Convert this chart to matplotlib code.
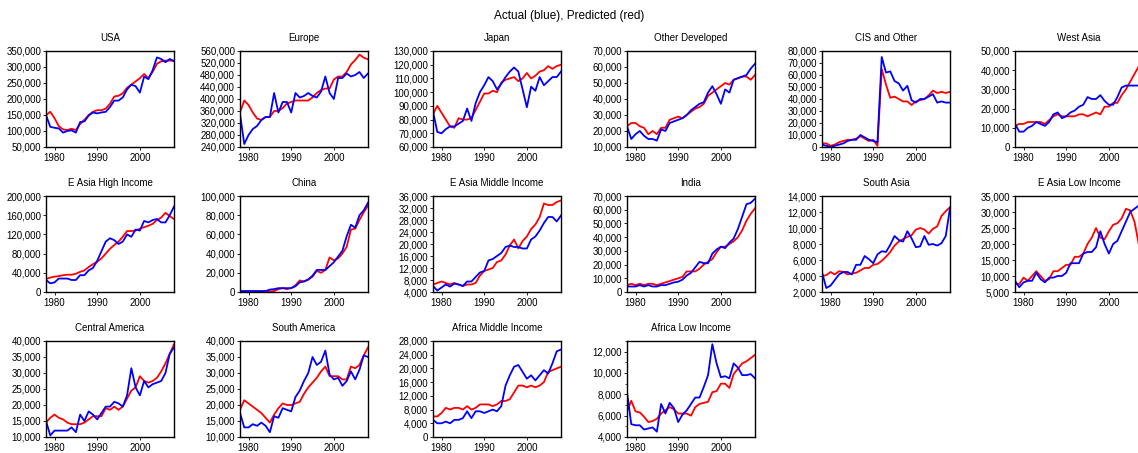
import matplotlib
matplotlib.use('Agg')
import matplotlib.pyplot as plt
from matplotlib.ticker import FuncFormatter, MultipleLocator
import numpy as np

plt.rcParams['font.family'] = ['Liberation Sans', 'DejaVu Sans']

years = np.arange(1978, 2009)

# (title, actual, predicted, ymin, ymax, ystep) -- values in thousands
usa_act = [150, 113, 110, 108, 95, 100, 102, 95, 128, 130, 148, 158, 155, 158, 160, 175, 195, 195, 205, 230, 245, 240, 220, 270, 262, 290, 330, 325, 315, 325, 318]
usa_pred = [150, 160, 140, 115, 105, 103, 107, 103, 122, 135, 150, 160, 165, 165, 170, 185, 208, 210, 218, 235, 245, 255, 265, 278, 265, 285, 310, 318, 320, 320, 320]

eur_act = [350, 250, 280, 300, 310, 330, 340, 340, 420, 355, 390, 390, 355, 420, 405, 410, 420, 410, 405, 425, 475, 420, 400, 470, 470, 485, 475, 480, 490, 470, 485]
eur_pred = [355, 395, 380, 355, 335, 330, 340, 340, 360, 360, 370, 385, 390, 395, 395, 395, 395, 405, 420, 430, 435, 435, 465, 475, 475, 490, 515, 530, 548, 538, 532]

jpn_act = [86, 71, 70, 73, 75, 75, 77, 79, 88, 79, 92, 100, 105, 111, 108, 102, 106, 111, 115, 118, 115, 102, 89, 104, 101, 111, 105, 108, 111, 111, 115]
jpn_pred = [84, 90, 85, 80, 75, 74, 81, 80, 80, 81, 87, 93, 99, 99, 101, 100, 107, 109, 110, 111, 108, 110, 114, 110, 112, 115, 116, 119, 117, 119, 120]

odv_act = [23, 15, 18, 20, 17, 15, 15, 14, 21, 20, 25, 26, 27, 28, 30, 33, 35, 37, 38, 44, 48, 43, 37, 46, 44, 52, 53, 54, 55, 59, 62]
odv_pred = [23, 25, 25, 23, 22, 18, 20, 18, 22, 22, 27, 28, 29, 28, 30, 32, 34, 35, 37, 42, 44, 46, 48, 50, 49, 52, 53, 54, 54, 52, 55]

cis_act = [2, 1, 0, 1, 2, 3, 5, 6, 6, 10, 8, 6, 5, 4, 75, 62, 63, 55, 53, 47, 51, 39, 37, 40, 40, 42, 44, 37, 38, 37, 37]
cis_pred = [3, 3, 1, 2, 4, 5, 6, 6, 7, 9, 7, 5, 6, 1, 65, 52, 41, 42, 40, 38, 38, 35, 38, 39, 40, 43, 47, 45, 46, 45, 46]

wa_act = [12, 8, 8, 10, 11, 13, 12, 11, 13, 17, 18, 15, 16, 18, 19, 21, 22, 26, 25, 25, 27, 24, 22, 22, 26, 31, 32, 32, 32, 32, 33]
wa_pred = [11, 12, 12, 13, 13, 13, 13, 12, 14, 16, 17, 16, 16, 16, 16, 17, 17, 16, 17, 18, 17, 21, 21, 23, 23, 27, 30, 34, 38, 42, 45]

eahi_act = [25, 18, 20, 28, 28, 28, 25, 25, 35, 35, 45, 50, 65, 85, 105, 112, 108, 100, 105, 120, 115, 130, 128, 148, 145, 150, 152, 145, 145, 160, 178]
eahi_pred = [27, 30, 32, 33, 35, 36, 36, 38, 42, 45, 52, 58, 63, 70, 80, 90, 98, 105, 115, 127, 127, 128, 132, 135, 138, 142, 150, 155, 165, 158, 152]

chn_act = [1, 1, 1, 1, 1, 1, 1, 2.5, 3, 4, 4, 4, 4, 6, 10, 11, 13, 17, 23, 23, 23, 27, 31, 37, 43, 58, 70, 67, 80, 85, 93]
chn_pred = [0.5, 0.5, 0.5, 0.5, 0.5, 0.5, 0.5, 0.5, 1, 3, 4, 3, 4, 7, 12, 11, 13, 16, 22, 20, 23, 36, 33, 35, 40, 47, 65, 66, 75, 83, 90]

eami_act = [6, 4.5, 5.5, 6.5, 5.8, 6.8, 6.5, 6, 7.5, 7.5, 9, 10.5, 11, 14.5, 15, 16, 17, 19, 19.5, 19, 19, 18.5, 18.5, 21.5, 22.5, 24.5, 27, 29, 29, 27.5, 29.5]
eami_pred = [6.5, 7, 7.5, 7, 6.5, 7, 6.5, 6, 6.5, 6.5, 7, 9.5, 11, 11.5, 12, 14, 14.5, 16.5, 19.5, 21.5, 18.5, 21, 22.5, 25, 26.5, 29, 33.5, 33, 33, 34, 34.5]

ind_act = [4, 4, 4, 5, 4, 5, 4, 4, 5, 5, 6, 7, 7.5, 9, 12, 14, 18, 22, 21, 21, 28, 31, 33, 32, 36, 39, 46, 55, 64, 65, 68]
ind_pred = [5, 6, 5, 6, 5, 6, 6, 5, 6, 7, 8, 9, 10, 11, 15, 15, 15, 17, 20, 22, 24, 29, 33, 33, 35, 37, 40, 45, 52, 57, 61]

sa_act = [4.5, 2.5, 2.8, 3.5, 4.2, 4.5, 4.5, 4.2, 5.4, 5.4, 6.5, 6.1, 5.6, 6.7, 7.1, 7.0, 7.9, 9.0, 8.5, 8.3, 9.6, 8.7, 7.6, 7.7, 9.0, 7.9, 8.0, 7.8, 8.1, 9.0, 12.5]
sa_pred = [4.0, 4.1, 4.5, 4.2, 4.6, 4.5, 4.2, 4.3, 4.4, 4.7, 5.0, 5.0, 5.4, 5.5, 5.9, 6.4, 7.0, 7.8, 8.3, 8.6, 8.9, 9.1, 9.8, 10.0, 9.8, 9.3, 9.9, 10.2, 11.5, 12.1, 12.6]

eali_act = [8.5, 6.5, 8, 8.5, 8.5, 11, 9, 8, 9.5, 9.5, 10, 10, 11, 14, 14, 14, 17, 17.5, 17.5, 19, 24, 20, 17, 20, 21, 24, 27, 30, 31, 32, 33]
eali_pred = [7.5, 7.5, 9.5, 8.5, 10, 11.5, 10, 8.5, 9, 11.5, 11.5, 12.5, 13.5, 13.5, 16, 16, 17, 20, 22, 25, 22, 21.5, 24, 26, 26.5, 28, 31, 30.5, 27, 20, 18]

cam_act = [15, 10.5, 12, 12, 12, 12, 13, 11.5, 17, 15, 18, 17, 15.5, 17.5, 19.5, 19.5, 21, 20.5, 19.5, 23, 31.5, 25.5, 23, 27.5, 25.5, 26.5, 27, 27.5, 30, 36, 38]
cam_pred = [14.5, 16, 17, 16, 15.5, 14.5, 14, 14, 14, 14.5, 15.5, 16.5, 16.5, 16.5, 19, 18.5, 19.5, 18.5, 19.5, 22, 24.5, 25.5, 29, 27.5, 27, 27.5, 28.5, 30.5, 33, 36, 39]

sam_act = [17.5, 13, 13, 14, 13.5, 14.5, 13.5, 11.5, 16.5, 16, 19, 18.5, 18, 22.5, 24.5, 27.5, 30, 35, 32.5, 33.5, 37, 29.5, 28, 28.5, 26, 27.5, 30.5, 28, 31, 35.5, 35]
sam_pred = [18.5, 21.5, 20.5, 19.5, 18.5, 17.5, 16, 14.5, 17, 19, 20.5, 20, 20, 20.5, 21, 23.5, 25.5, 27, 28.5, 30.5, 32, 29, 29, 29, 28, 28, 32, 31.5, 32.5, 35.5, 38]

ami_act = [5, 4, 4, 4.5, 4, 5, 5, 5.5, 7.5, 5.5, 7.5, 7.5, 7, 7.5, 8, 7.5, 9, 15, 18, 20.5, 21, 19, 17, 18, 16.5, 18, 19.5, 18.5, 21.5, 25, 25.5]
ami_pred = [6, 6, 7, 8.5, 8, 8.5, 8.5, 8, 9, 8, 8.5, 9.5, 9.5, 9.5, 9, 9.5, 10.5, 10.5, 11, 13, 15, 15, 14.5, 15, 14.5, 15, 16, 19, 19.5, 20, 20.5]

ali_act = [8.2, 5.2, 5.1, 5.1, 4.7, 4.8, 4.9, 4.5, 7.1, 6.2, 7.2, 6.7, 5.4, 6.1, 6.5, 7.1, 7.7, 7.7, 8.7, 9.8, 12.7, 10.9, 9.6, 9.7, 9.5, 10.9, 10.5, 9.8, 9.8, 9.9, 9.5]
ali_pred = [6.4, 7.4, 6.4, 6.3, 5.9, 5.4, 5.5, 5.7, 6.2, 6.5, 6.8, 6.6, 6.2, 6.2, 6.2, 6.0, 6.8, 7.1, 7.2, 7.3, 8.2, 8.3, 9.0, 9.0, 8.6, 9.9, 10.4, 10.9, 11.1, 11.4, 11.7]

panels = [
    ('USA', usa_act, usa_pred, 50, 350, 50),
    ('Europe', eur_act, eur_pred, 240, 560, 40),
    ('Japan', jpn_act, jpn_pred, 60, 130, 10),
    ('Other Developed', odv_act, odv_pred, 10, 70, 10),
    ('CIS and Other', cis_act, cis_pred, 0, 80, 10),
    ('West Asia', wa_act, wa_pred, 0, 50, 10),
    ('E Asia High Income', eahi_act, eahi_pred, 0, 200, 40),
    ('China', chn_act, chn_pred, 0, 100, 20),
    ('E Asia Middle Income', eami_act, eami_pred, 4, 36, 4),
    ('India', ind_act, ind_pred, 0, 70, 10),
    ('South Asia', sa_act, sa_pred, 2, 14, 2),
    ('E Asia Low Income', eali_act, eali_pred, 5, 35, 5),
    ('Central America', cam_act, cam_pred, 10, 40, 5),
    ('South America', sam_act, sam_pred, 10, 40, 5),
    ('Africa Middle Income', ami_act, ami_pred, 0, 28, 4),
    ('Africa Low Income', ali_act, ali_pred, 4, 13, 2),
]

W, H = 1138, 453
fig = plt.figure(figsize=(W / 100, H / 100), dpi=100)
fig.suptitle('Actual (blue), Predicted (red)', fontsize=8.5, y=1 - 16 / H, va='center')

col_x = [46, 240, 433, 627, 822, 1015]
row_top = [51, 196, 341]
aw, ah = 128, 96

for i, (name, act, pred, y0, y1, step) in enumerate(panels):
    r, c = divmod(i, 6)
    ax = fig.add_axes([col_x[c] / W, 1 - (row_top[r] + ah) / H, aw / W, ah / H])
    ax.plot(years, np.array(pred) * 1000, color='#ff0000', lw=1.3)
    ax.plot(years, np.array(act) * 1000, color='#0000ff', lw=1.3)
    ax.set_xlim(1978, 2008)
    ax.set_ylim(y0 * 1000, y1 * 1000)
    ax.yaxis.set_major_locator(MultipleLocator(step * 1000))
    if name == 'Africa Low Income':
        ax.yaxis.set_minor_locator(MultipleLocator(1000))
    ax.yaxis.set_major_formatter(FuncFormatter(lambda v, p: '{:,.0f}'.format(v)))
    ax.set_xticks([1980, 1990, 2000])
    ax.tick_params(axis='both', labelsize=7, length=2.5, width=0.6, pad=1, colors='black')
    ax.tick_params(axis='y', which='minor', length=1.5, width=0.5)
    ax.tick_params(axis='x', pad=2)
    for s in ax.spines.values():
        s.set_linewidth(1.0)
    ax.set_title(name, fontsize=7, pad=7)

fig.savefig('out.png', dpi=100)
